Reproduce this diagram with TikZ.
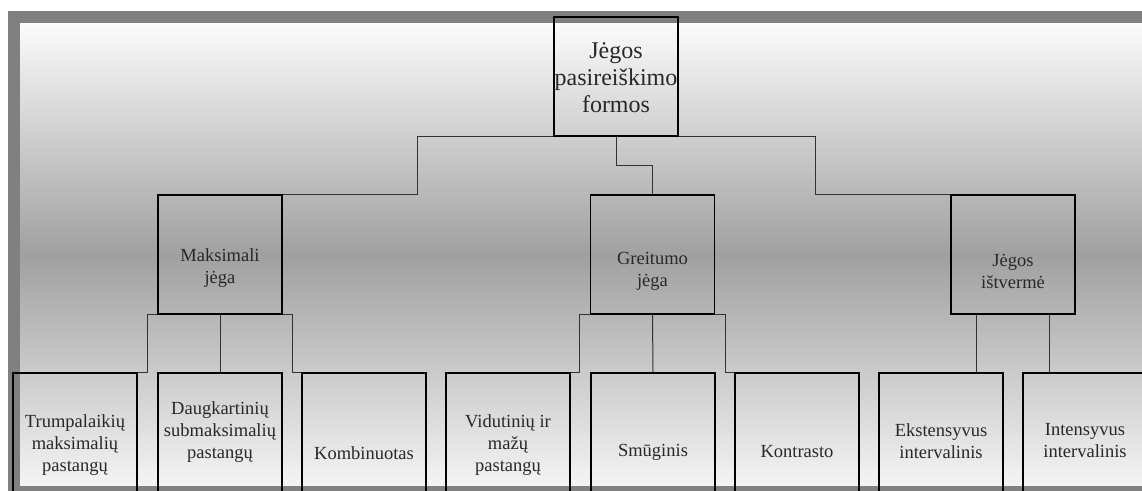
\documentclass[tikz,border=0pt]{standalone}
\usepackage{fontspec}
\setmainfont{Liberation Serif}
\definecolor{framegray}{RGB}{128,128,128}
\definecolor{bgtop}{RGB}{251,251,251}
\definecolor{bgmid}{RGB}{160,160,160}
\definecolor{bgbot}{RGB}{244,244,244}
\definecolor{txt}{RGB}{40,40,40}
\definecolor{wire}{RGB}{50,50,50}
\begin{document}
\begin{tikzpicture}[x=1pt,y=-1pt,
  box/.style={draw=black,line width=1.8pt,minimum width=124pt,minimum height=119pt,inner sep=0pt},
  bigtext/.style={text=txt,align=center,inner sep=0pt,font=\fontsize{24}{27}\selectfont},
  boxtext/.style={text=txt,align=center,inner sep=0pt,font=\fontsize{18.5}{22}\selectfont},
  wire/.style={draw=wire,line width=1pt}]
\useasboundingbox (0,0) rectangle (1142,490);
\clip (0,0) rectangle (1142,490);
% background panel: light at the edges, darker across the middle
\shade[top color=bgtop,bottom color=bgmid] (20pt,-23pt) rectangle (1142pt,-254.5pt);
\shade[top color=bgmid,bottom color=bgbot] (20pt,-254.4pt) rectangle (1142pt,-486pt);
% grey frame round the panel
\draw[framegray,line width=12pt] (14,17) rectangle (1148,492);

% boxes
\node[box] (top)   at (616,76.5)  {};
\node[box] (maks)  at (220,254.5) {};
\node[box] (greit) at (652.5,254.5) {};
\node[box] (jist)  at (1013,254.5) {};
\node[box] (b1) at (75,432.5)   {};
\node[box] (b2) at (220,432.5)  {};
\node[box] (b3) at (364,432.5)  {};
\node[box] (b4) at (508,432.5)  {};
\node[box] (b5) at (653,432.5)  {};
\node[box] (b6) at (797,432.5)  {};
\node[box] (b7) at (941,432.5)  {};
\node[box] (b8) at (1085,432.5) {};

% labels
\node[bigtext] (ttop) at (616,78) {Jėgos\\pasireiškimo\\formos};
\node[boxtext] (tmaks)  at (220,268)   {Maksimali\\jėga};
\node[boxtext] (tgreit) at (652.5,271) {Greitumo\\jėga};
\node[boxtext] (tjist)  at (1013,271)  {Jėgos\\ištvermė};
\node[boxtext] (t1) at (75,445)   {Trumpalaikių\\maksimalių\\pastangų};
\node[boxtext] (t2) at (220,432)  {Daugkartinių\\submaksimalių\\pastangų};
\node[boxtext] (t3) at (364,453)  {Kombinuotas};
\node[boxtext] (t4) at (508,445)  {Vidutinių ir\\mažų\\pastangų};
\node[boxtext] (t5) at (653,452)  {Smūginis};
\node[boxtext] (t6) at (797,452)  {Kontrasto};
\node[boxtext] (t7) at (941,441)  {Ekstensyvus\\intervalinis};
\node[boxtext] (t8) at (1085,441) {Intensyvus\\intervalinis};

% connectors, first level
\draw[wire] (top.south west) -- ++(-136,0) |- (maks.north east);
\draw[wire] (top.south) -- ++(0,29) -| (greit.north);
\draw[wire] (top.south east) -- ++(137,0) |- (jist.north west);

% connectors, second level
\draw[wire] (maks.south west) -- ++(-10,0) |- (b1.north east);
\draw[wire] (maks.south) -- (b2.north);
\draw[wire] (maks.south east) -- ++(10,0) |- (b3.north west);
\draw[wire] (greit.south west) -- ++(-10,0) |- (b4.north east);
\draw[wire] (greit.south) -- (b5.north);
\draw[wire] (greit.south east) -- ++(10,0) |- (b6.north west);
\draw[wire] ([xshift=26pt]jist.south west) -- ([xshift=26pt]jist.south west |- b7.north);
\draw[wire] ([xshift=-26pt]jist.south east) -- ([xshift=-26pt]jist.south east |- b8.north);
\end{tikzpicture}
\end{document}
